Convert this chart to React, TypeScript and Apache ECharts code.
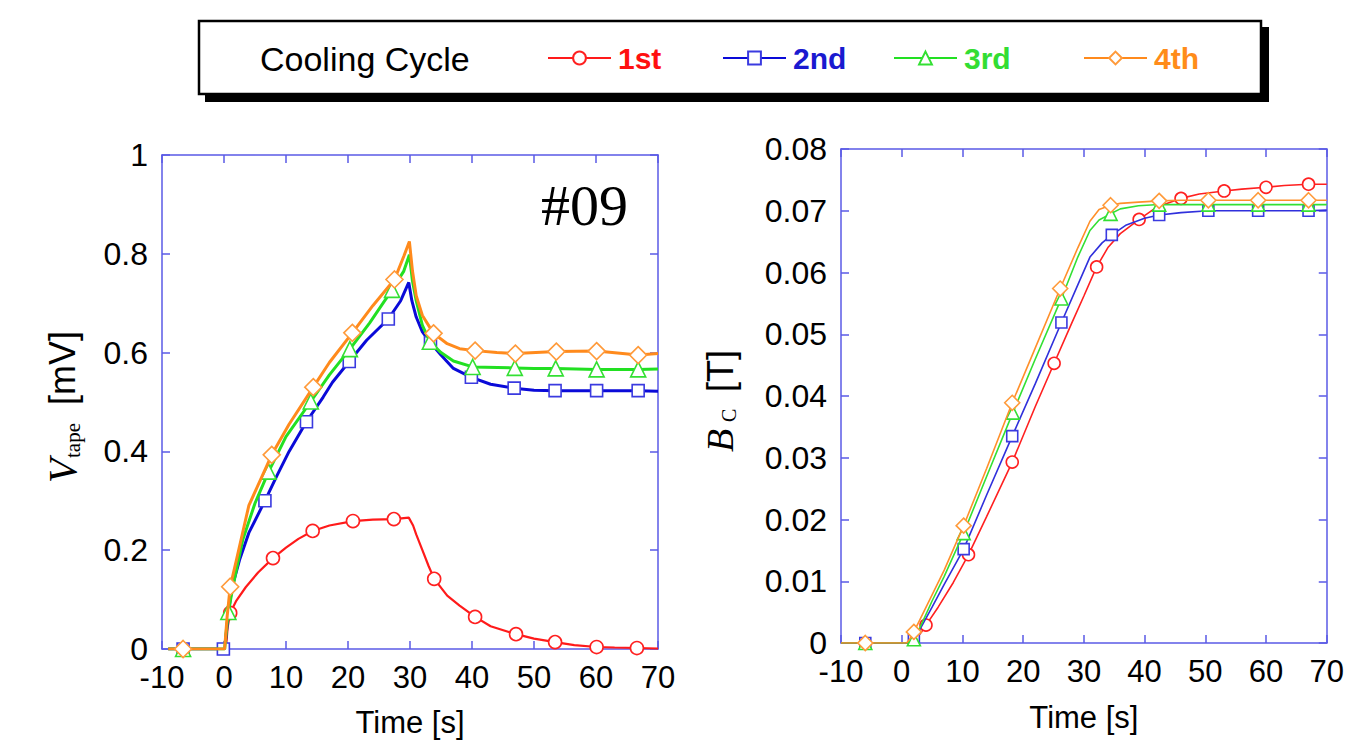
import React, { useEffect, useRef } from 'react';
import * as echarts from 'echarts';

// ---------- data ----------
const cycleNames = ['1st', '2nd', '3rd', '4th'];
const xTickMin = -10;
const xTickMax = 70;
const xTickStep = 10;
const vTickMax = 1;
const vTickStep = 0.2;
const bTickMax = 0.08;
const bTickStep = 0.01;

// Left panel: V_tape [mV] vs time [s]
const vtape1Line = [[-9, 0], [0.3, 0], [0.6, 0.045], [2, 0.098], [3.5, 0.125], [5.5, 0.155], [10, 0.205], [12, 0.223], [17, 0.25], [24, 0.262], [29.8, 0.266], [30.5, 0.25], [31, 0.232], [32, 0.2], [33, 0.168], [36, 0.108], [38, 0.088], [43, 0.046], [50, 0.021], [56.5, 0.008], [63, 0.003], [70, 0.001]];
const vtape1Marks = [[1.0, 0.073], [7.9, 0.184], [14.3, 0.239], [20.8, 0.259], [27.4, 0.263], [33.9, 0.142], [40.5, 0.065], [47.1, 0.03], [53.4, 0.014], [60.1, 0.004], [66.6, 0.002]];

const vtape2Line = [[-9, 0], [0.2, 0.01], [0.6, 0.06], [1.2, 0.12], [2.5, 0.18], [4, 0.235], [8.5, 0.35], [10.5, 0.4], [16, 0.51], [17.5, 0.54], [23, 0.625], [28.5, 0.705], [29.8, 0.742], [30.3, 0.705], [31, 0.672], [32, 0.642], [35, 0.595], [37, 0.568], [43, 0.536], [50, 0.524], [70, 0.522]];
const vtape2Marks = [[-6.6, 0], [-0.1, 0], [6.6, 0.3], [13.3, 0.46], [20.2, 0.582], [26.5, 0.668], [33.3, 0.62], [39.9, 0.55], [46.8, 0.528], [53.4, 0.523], [60.1, 0.523], [66.8, 0.523]];

const vtape3Line = [[-9, 0], [0.1, 0], [0.4, 0.04], [1.5, 0.13], [3, 0.22], [5, 0.295], [10, 0.43], [17, 0.555], [23.5, 0.66], [29, 0.765], [29.9, 0.798], [30.4, 0.745], [31, 0.705], [32, 0.655], [35, 0.6], [37, 0.583], [50, 0.568], [70, 0.567]];
const vtape3Marks = [[-6.6, 0], [0.7, 0.075], [7.2, 0.359], [14.0, 0.501], [20.3, 0.607], [27.1, 0.727], [33.2, 0.622], [40.1, 0.571], [46.9, 0.569], [53.5, 0.568], [60.1, 0.566], [66.8, 0.566]];

const vtape4Line = [[-9, 0], [0.1, 0], [0.5, 0.065], [2, 0.18], [4, 0.29], [10.5, 0.455], [17, 0.58], [24, 0.695], [29, 0.795], [29.9, 0.825], [30.4, 0.765], [31, 0.715], [32, 0.675], [36, 0.618], [38, 0.608], [44, 0.6], [70, 0.598]];
const vtape4Marks = [[-6.6, 0], [1.0, 0.126], [7.7, 0.393], [14.4, 0.53], [20.7, 0.64], [27.5, 0.748], [33.8, 0.639], [40.5, 0.604], [47.0, 0.598], [53.6, 0.602], [60.1, 0.603], [66.8, 0.595]];

// Right panel: B_C [T] vs time [s]
const bc1Line = [[-10, 0], [0, 0], [1.5, 0], [2.5, 0.0008], [3.2, 0.0017], [6, 0.0058], [8.5, 0.0098], [14, 0.0205], [22, 0.0383], [28, 0.0518], [30, 0.0562], [34, 0.0641], [36, 0.0663], [42, 0.0706], [49, 0.0727], [56, 0.0735], [63, 0.0741], [70, 0.0743]];
const bc1Marks = [[4.0, 0.0029], [11.0, 0.0143], [18.2, 0.0293], [25.1, 0.0453], [32.1, 0.0609], [39.1, 0.0686], [46.0, 0.072], [53.1, 0.0732], [60.0, 0.0738], [67.0, 0.0743]];

const bc2Line = [[-10, 0], [0.8, 0], [1.5, 0.0003], [3, 0.0022], [5, 0.0058], [7, 0.0095], [14, 0.024], [22, 0.042], [29, 0.058], [31, 0.0625], [33, 0.0648], [37, 0.0677], [40, 0.0688], [46, 0.0697], [55, 0.07], [70, 0.0701]];
const bc2Marks = [[-6, 0], [2.0, 0.0008], [10.2, 0.0152], [18.2, 0.0335], [26.3, 0.0519], [34.6, 0.0661], [42.4, 0.0693], [50.5, 0.07], [58.7, 0.07], [67.0, 0.07]];

const bc3Line = [[-10, 0], [0.8, 0], [1.5, 0.0002], [3, 0.0025], [5, 0.0068], [7, 0.0108], [14, 0.027], [22, 0.046], [29, 0.0625], [31, 0.0668], [32.5, 0.0685], [36, 0.0703], [39, 0.0708], [46, 0.071], [70, 0.071]];
const bc3Marks = [[-6, 0], [2.0, 0.0006], [10.2, 0.0178], [18.3, 0.0373], [26.3, 0.0558], [34.4, 0.0695], [42.4, 0.071], [50.5, 0.071], [58.7, 0.071], [67.0, 0.071]];

const bc4Line = [[-10, 0], [0.8, 0], [1.3, 0.0006], [3, 0.0038], [5, 0.0078], [7, 0.0118], [14, 0.0283], [22, 0.0478], [29, 0.064], [31, 0.0683], [32.5, 0.0702], [36, 0.0712], [39, 0.0714], [46, 0.0717], [70, 0.0717]];
const bc4Marks = [[-6, 0], [2.0, 0.0018], [10.2, 0.019], [18.2, 0.0389], [26.1, 0.0574], [34.4, 0.0709], [42.4, 0.0716], [50.5, 0.0717], [58.7, 0.0717], [67.0, 0.0717]];

// ---------- styles ----------
const vtapeLines = [vtape1Line, vtape2Line, vtape3Line, vtape4Line];
const vtapeMarks = [vtape1Marks, vtape2Marks, vtape3Marks, vtape4Marks];
const bcLines = [bc1Line, bc2Line, bc3Line, bc4Line];
const bcMarks = [bc1Marks, bc2Marks, bc3Marks, bc4Marks];

const lineColorsLeft = ['#ff1a1a', '#0a0ad8', '#22e022', '#ff8a1c'];
const lineColorsRight = ['#ff2020', '#3030dc', '#33e033', '#ff8f2a'];
const markColors = ['#ff2020', '#3a3ae0', '#33e033', '#ff9a3a'];
const legendTextColors = ['#ff1010', '#1a1ad0', '#33dd33', '#ff8c1a'];
const symbols = ['circle', 'rect', 'triangle', 'diamond'];
const symSizeLeft = [13, 12, 15, 17];
const symSizeRight = [12, 11, 13, 15];
const legendLefts = [547, 722, 893, 1083];

const AX = '#5a5ae6';
const SANS = '"Liberation Sans", Arial, sans-serif';
const SERIF = '"Liberation Serif", "Times New Roman", serif';

function build(line: number[][], marks: number[][]) {
  const items: any[] = [
    ...line.map((p) => ({ value: p, symbol: 'none' })),
    ...marks.map((p) => ({ value: p })),
  ];
  items.sort((a, b) => a.value[0] - b.value[0]);
  return items;
}

function fmt(v: number, d: number) {
  return String(Math.round(v * Math.pow(10, d)) / Math.pow(10, d));
}

function xAxis(grid: number, pos: string, show: boolean, nameGap: number) {
  return {
    type: 'value',
    gridIndex: grid,
    position: pos,
    min: xTickMin,
    max: xTickMax,
    interval: xTickStep,
    axisLine: { show: true, onZero: false, lineStyle: { color: AX, width: 1.5 } },
    axisTick: { show: true, inside: true, length: 8, lineStyle: { color: AX, width: 1.5 } },
    axisLabel: {
      show,
      color: '#000',
      fontSize: 31,
      lineHeight: 26,
      fontFamily: SANS,
      margin: 15,
      showMinLabel: true,
      showMaxLabel: true,
    },
    splitLine: { show: false },
    name: show ? 'Time [s]' : '',
    nameLocation: 'middle',
    nameGap,
    nameTextStyle: { color: '#000', fontSize: 31, fontFamily: SANS },
  };
}

function yAxis(grid: number, pos: string, show: boolean, max: number, step: number, digits: number) {
  return {
    type: 'value',
    gridIndex: grid,
    position: pos,
    min: 0,
    max,
    interval: step,
    axisLine: { show: true, onZero: false, lineStyle: { color: AX, width: 1.5 } },
    axisTick: { show: true, inside: true, length: 8, lineStyle: { color: AX, width: 1.5 } },
    axisLabel: {
      show,
      color: '#000',
      fontSize: 32,
      lineHeight: 24,
      fontFamily: SANS,
      margin: 14,
      formatter: (v: number) => fmt(v, digits),
    },
    splitLine: { show: false },
  };
}

export default function App() {
  const ref = useRef<HTMLDivElement>(null);
  useEffect(() => {
    if (!ref.current) return;
    const chart = echarts.init(ref.current, undefined, { renderer: 'svg' });

    const series: any[] = [];
    cycleNames.forEach((name, i) => {
      series.push({
        type: 'line',
        name,
        xAxisIndex: 0,
        yAxisIndex: 0,
        data: build(vtapeLines[i], vtapeMarks[i]),
        symbol: symbols[i],
        symbolSize: symSizeLeft[i],
        showSymbol: true,
        lineStyle: { color: lineColorsLeft[i], width: i === 0 ? 2.2 : 3 },
        itemStyle: { color: '#fff', borderColor: markColors[i], borderWidth: 1.6 },
        silent: true,
        z: 2 + i,
      });
    });
    cycleNames.forEach((name, i) => {
      series.push({
        type: 'line',
        name,
        xAxisIndex: 2,
        yAxisIndex: 2,
        data: build(bcLines[i], bcMarks[i]),
        symbol: symbols[i],
        symbolSize: symSizeRight[i],
        showSymbol: true,
        lineStyle: { color: lineColorsRight[i], width: 1.6 },
        itemStyle: { color: '#fff', borderColor: markColors[i], borderWidth: 1.6 },
        silent: true,
        z: 2 + i,
      });
    });

    const legends = cycleNames.map((name, i) => ({
      data: [{ name, textStyle: { color: legendTextColors[i] } }],
      left: legendLefts[i],
      top: 42,
      padding: 0,
      itemWidth: 63,
      itemHeight: 16,
      itemGap: 0,
      selectedMode: false,
      z: 10,
      textStyle: { fontSize: 30, fontWeight: 'bold', fontFamily: SANS, lineHeight: 32, padding: [0, 0, 0, 2] },
    }));

    chart.setOption({
      animation: false,
      backgroundColor: '#fff',
      grid: [
        { left: 162, top: 155, width: 496, height: 494 },
        { left: 841, top: 149, width: 498, height: 494 },
      ],
      xAxis: [
        xAxis(0, 'bottom', true, 58),
        xAxis(0, 'top', false, 0),
        xAxis(1, 'bottom', true, 59),
        xAxis(1, 'top', false, 0),
      ],
      yAxis: [
        yAxis(0, 'left', true, vTickMax, vTickStep, 1),
        yAxis(0, 'right', false, vTickMax, vTickStep, 1),
        yAxis(1, 'left', true, bTickMax, bTickStep, 2),
        yAxis(1, 'right', false, bTickMax, bTickStep, 2),
      ],
      legend: legends,
      graphic: [
        { type: 'rect', z: 1, shape: { x: 205, y: 27, width: 1064, height: 75 }, style: { fill: '#000' } },
        { type: 'rect', z: 2, shape: { x: 199, y: 21, width: 1062, height: 73 }, style: { fill: '#fff', stroke: '#000', lineWidth: 2.5 } },
        {
          type: 'text', z: 3, x: 260, y: 59,
          style: { text: 'Cooling Cycle', fontSize: 34, fontFamily: SANS, fill: '#000', align: 'left', verticalAlign: 'middle' },
        },
        {
          type: 'text', z: 3, x: 541, y: 205,
          style: { text: '#09', fontSize: 58, fontFamily: SERIF, fill: '#000', align: 'left', verticalAlign: 'middle' },
        },
        {
          type: 'group', x: 62, y: 483, rotation: Math.PI / 2, z: 3,
          children: [
            { type: 'text', x: 0, y: 0, style: { text: 'V', fontSize: 40, fontStyle: 'italic', fontFamily: SERIF, fill: '#000', align: 'left', verticalAlign: 'middle' } },
            { type: 'text', x: 25, y: 11, style: { text: 'tape', fontSize: 21, fontFamily: SERIF, fill: '#000', align: 'left', verticalAlign: 'middle' } },
            { type: 'text', x: 78, y: 0, style: { text: '[mV]', fontSize: 36, fontFamily: SANS, fill: '#000', align: 'left', verticalAlign: 'middle' } },
          ],
        },
        {
          type: 'group', x: 720, y: 452, rotation: Math.PI / 2, z: 3,
          children: [
            { type: 'text', x: 0, y: 0, style: { text: 'B', fontSize: 38, fontStyle: 'italic', fontFamily: SERIF, fill: '#000', align: 'left', verticalAlign: 'middle' } },
            { type: 'text', x: 30, y: 9, style: { text: 'C', fontSize: 20, fontFamily: SERIF, fill: '#000', align: 'left', verticalAlign: 'middle' } },
            { type: 'text', x: 60, y: 0, style: { text: '[T]', fontSize: 36, fontFamily: SANS, fill: '#000', align: 'left', verticalAlign: 'middle' } },
          ],
        },
      ],
      series,
    });
    return () => chart.dispose();
  }, []);
  return <div ref={ref} style={{ position: 'absolute', left: 0, top: 0, width: 1347, height: 756 }} />;
}
